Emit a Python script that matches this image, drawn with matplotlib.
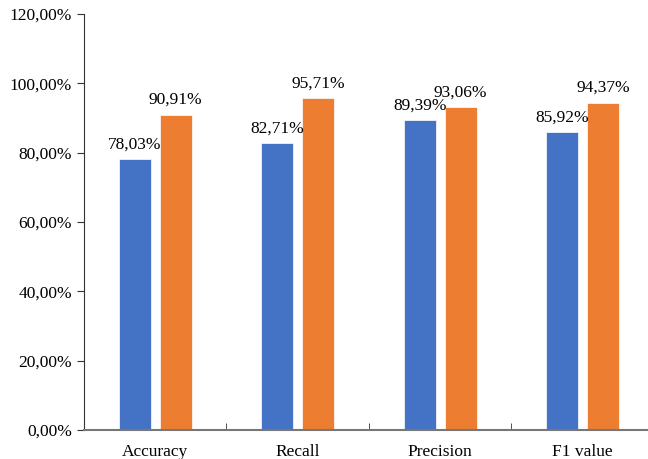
import numpy as np
import matplotlib.pyplot as plt

categories = ['Accuracy', 'Recall', 'Precision', 'F1 value']
series_a = [78.03, 82.71, 89.39, 85.92]
series_b = [90.91, 95.71, 93.06, 94.37]

plt.rcParams['font.family'] = ['Liberation Serif', 'DejaVu Serif']
plt.rcParams['font.size'] = 12.5

fig = plt.figure(figsize=(6.48, 4.59), dpi=100)
ax = fig.add_axes([0.1296, 0.0632, 0.8796, 0.9063])

x = np.arange(len(categories))
w = 0.225
off = 0.143
b1 = ax.bar(x - off, series_a, w, color='#4472C4', edgecolor='white', linewidth=0.5)
b2 = ax.bar(x + off, series_b, w, color='#ED7D31', edgecolor='white', linewidth=0.5)

def fmt(v):
    return ('%.2f%%' % v).replace('.', ',')

for bars, vals in ((b1, series_a), (b2, series_b)):
    for r, v in zip(bars, vals):
        ax.annotate(fmt(v), (r.get_x() + r.get_width() / 2, v), xytext=(0, 5),
                    textcoords='offset points', ha='center', va='bottom')

ax.set_xlim(-0.5, len(categories) - 0.5)
ax.set_ylim(0, 120)
ax.set_yticks(np.arange(0, 121, 20))
ax.set_yticklabels([fmt(t) for t in np.arange(0, 121, 20)])
ax.set_xticks(x)
ax.set_xticklabels(categories)
ax.set_xticks(np.arange(0.5, len(categories) - 0.5, 1), minor=True)
ax.tick_params(axis='x', which='major', length=0, pad=10)
ax.tick_params(axis='x', which='minor', length=5, direction='in', color='#333333')
ax.tick_params(axis='y', length=5, direction='out', color='#333333')
for s in ('top', 'right'):
    ax.spines[s].set_visible(False)
ax.spines['left'].set_color('#333333')
ax.spines['bottom'].set_color('#777777')
ax.spines['bottom'].set_linewidth(1.5)

fig.savefig('out.png', dpi=100)
